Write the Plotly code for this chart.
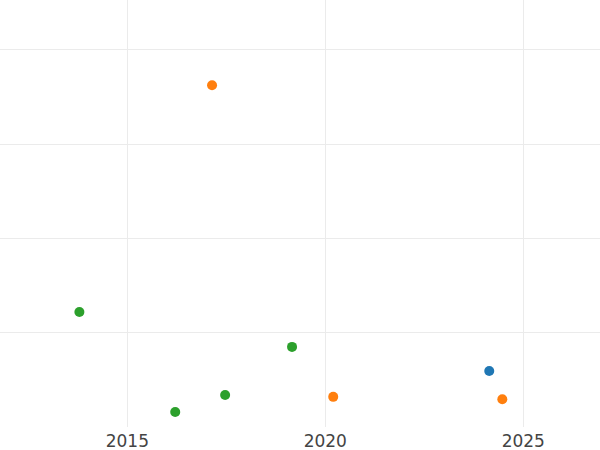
import plotly.graph_objects as go

# Data
blue_x = [2024.14]
blue_y = [5.95]
orange_x = [2017.14, 2020.2, 2024.47]
orange_y = [36.25, 3.2, 2.95]
green_x = [2013.79, 2016.21, 2017.47, 2019.16]
green_y = [12.2, 1.6, 3.4, 8.5]

series = [
    ("A", blue_x, blue_y, "#1f77b4"),
    ("B", orange_x, orange_y, "#ff7f0e"),
    ("C", green_x, green_y, "#2ca02c"),
]

fig = go.Figure()
for name, xs, ys, color in series:
    fig.add_trace(go.Scatter(x=xs, y=ys, mode="markers", name=name,
                             marker=dict(color=color, size=10)))

fig.update_layout(
    template="plotly_white",
    width=600, height=450,
    margin=dict(l=0, r=0, t=0, b=23),
    showlegend=False,
    font=dict(family="DejaVu Sans", size=17, color="#444"),
)
fig.update_xaxes(range=[2011.785, 2026.937], tickvals=[2015, 2020, 2025],
                 ticktext=["2015", "2020", "2025"], showgrid=True,
                 gridcolor="#ebebeb", zeroline=False, automargin=False,
                 ticklabelstandoff=2)
fig.update_yaxes(range=[0, 45.3], dtick=10, showticklabels=False,
                 gridcolor="#ebebeb", zeroline=False, automargin=False)

fig.write_html("out.html",
               config={"displayModeBar": False},
               post_script="document.body.style.margin='0';document.body.style.overflow='hidden';")
